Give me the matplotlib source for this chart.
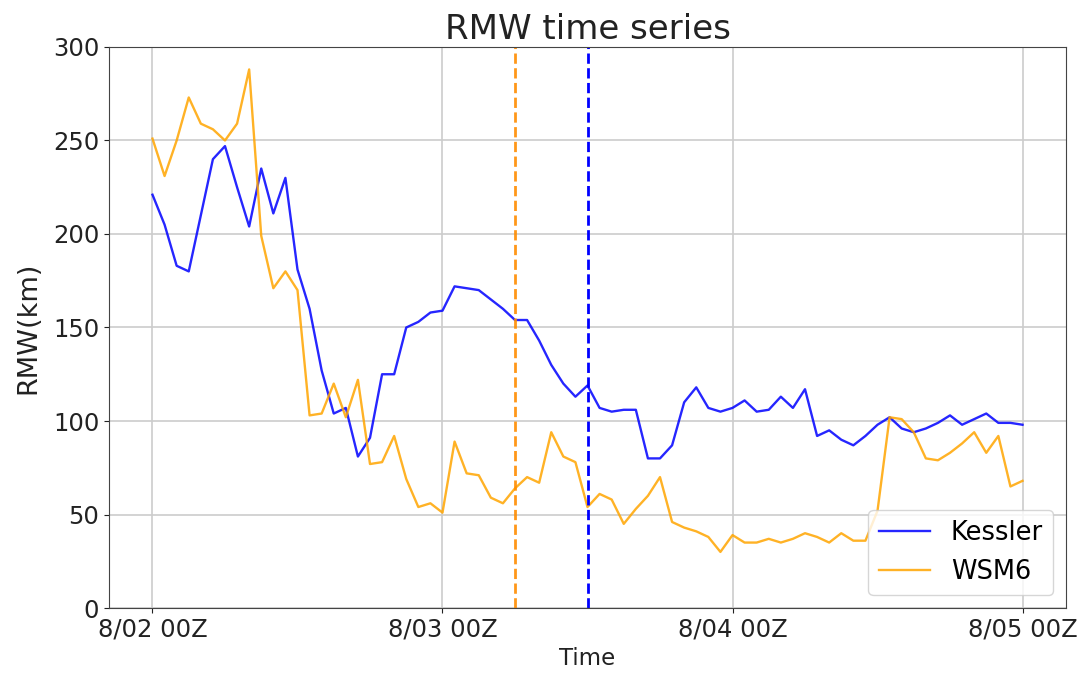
import numpy as np
import matplotlib.pyplot as plt

# hourly RMW (km) from 8/02 00Z to 8/05 00Z
hours = np.arange(73)

kessler = [221, 205, 183, 180, 210, 240, 247, 225, 204, 235, 211, 230,
           181, 160, 127, 104, 107, 81, 91, 125, 125, 150, 153, 158,
           159, 172, 171, 170, 165, 160, 154, 154, 143, 130, 120, 113,
           119, 107, 105, 106, 106, 80, 80, 87, 110, 118, 107, 105,
           107, 111, 105, 106, 113, 107, 117, 92, 95, 90, 87, 92,
           98, 102, 96, 94, 96, 99, 103, 98, 101, 104, 99, 99, 98]

wsm6 = [251, 231, 250, 273, 259, 256, 250, 259, 288, 199, 171, 180,
        170, 103, 104, 120, 102, 122, 77, 78, 92, 69, 54, 56,
        51, 89, 72, 71, 59, 56, 64, 70, 67, 94, 81, 78,
        54, 61, 58, 45, 53, 60, 70, 46, 43, 41, 38, 30,
        39, 35, 35, 37, 35, 37, 40, 38, 35, 40, 36, 36,
        52, 102, 101, 94, 80, 79, 83, 88, 94, 83, 92, 65, 68]

# hour of the vertical markers
wsm6_mark = 30
kessler_mark = 36

tick_pos = [0, 24, 48, 72]
tick_labels = ["8/02 00Z", "8/03 00Z", "8/04 00Z", "8/05 00Z"]

fig = plt.figure(figsize=(10.91, 6.77), dpi=100)
ax = fig.add_axes([0.0999, 0.1019, 0.8772, 0.8287])

ax.plot(hours, kessler, color="blue", lw=1.7, alpha=0.85, label="Kessler")
ax.plot(hours, wsm6, color="orange", lw=1.7, alpha=0.85, label="WSM6")
ax.axvline(wsm6_mark, color="darkorange", ls="--", lw=2, alpha=0.9)
ax.axvline(kessler_mark, color="blue", ls="--", lw=2)

ax.set_xticks(tick_pos, tick_labels)
ax.set_ylim(0, 300)
ax.tick_params(labelsize=17.5, colors="#222222")
ax.set_title("RMW time series", fontsize=24.5, color="#222222")
ax.set_ylabel("RMW(km)", fontsize=19.5, color="#222222", labelpad=8)
ax.set_xlabel("Time", fontsize=16.5, color="#222222")
for s in ax.spines.values():
    s.set_color("#444444")
ax.grid(color="#cccccc", lw=1.2)
ax.set_axisbelow(True)
ax.legend(loc="lower right", fontsize=18.5)

fig.savefig("out.png", dpi=100)
